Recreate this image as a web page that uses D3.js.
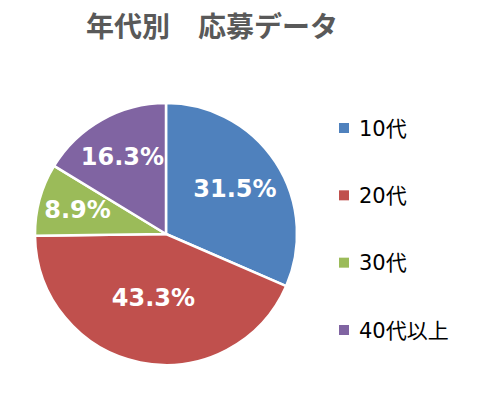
<!DOCTYPE html>
<html>
<head>
<meta charset="utf-8">
<script src="https://cdn.jsdelivr.net/npm/d3@7"></script>
<style>
  body { margin: 0; background: #fff; }
  svg { display: block; }
</style>
</head>
<body>
<div id="chart"></div>
<script>
// Data
const categories = ['10代', '20代', '30代', '40代以上'];
const values = [31.5, 43.3, 8.9, 16.3];
const colors = ['#4F81BD', '#C0504D', '#9BBB59', '#8064A2'];
// label distance from the centre, as a share of the radius (Excel best fit)
const labelDist = [0.63, 0.49, 0.70, 0.68];

const width = 477, height = 397;
const cx = 166, cy = 234, radius = 131;
const fontStack = '"DejaVu Sans", "Noto Sans CJK JP", sans-serif';

const svg = d3.select('#chart')
    .append('svg')
    .attr('width', width)
    .attr('height', height);

// Title
svg.append('text')
    .attr('x', 212)
    .attr('y', 37)
    .attr('text-anchor', 'middle')
    .style('font-family', '"Noto Sans CJK JP", sans-serif')
    .style('font-size', '28px')
    .style('font-weight', 'bold')
    .style('fill', '#595959')
    .text('年代別　応募データ');

// Pie
const pie = d3.pie().sort(null).value(d => d);
const arcs = pie(values);
const arc = d3.arc().innerRadius(0).outerRadius(radius);

const g = svg.append('g')
    .attr('transform', `translate(${cx},${cy})`);

g.selectAll('path')
    .data(arcs)
    .enter()
    .append('path')
    .attr('d', arc)
    .attr('fill', (d, i) => colors[i])
    .attr('stroke', '#fff')
    .attr('stroke-width', 2.5)
    .attr('stroke-linejoin', 'round');

g.selectAll('.label')
    .data(arcs)
    .enter()
    .append('text')
    .attr('class', 'label')
    .attr('transform', (d, i) => {
        const r = radius * labelDist[i];
        const c = d3.arc().innerRadius(r).outerRadius(r).centroid(d);
        return `translate(${c[0]},${c[1]})`;
    })
    .attr('dy', '0.36em')
    .attr('text-anchor', 'middle')
    .style('font-family', fontStack)
    .style('font-size', '24px')
    .style('font-weight', 'bold')
    .style('fill', '#fff')
    .text(d => d.data.toFixed(1) + '%');

// Legend
const legendY = d3.scalePoint()
    .domain(categories)
    .range([128, 330]);

const legend = svg.append('g')
    .selectAll('g')
    .data(categories)
    .enter()
    .append('g')
    .attr('transform', d => `translate(339,${legendY(d)})`);

legend.append('rect')
    .attr('x', 0)
    .attr('y', -5)
    .attr('width', 10)
    .attr('height', 10)
    .attr('fill', (d, i) => colors[i]);

legend.append('text')
    .attr('x', 20)
    .attr('dy', '0.36em')
    .style('font-family', fontStack)
    .style('font-size', '21px')
    .style('fill', '#000')
    .text(d => d);
</script>
</body>
</html>
